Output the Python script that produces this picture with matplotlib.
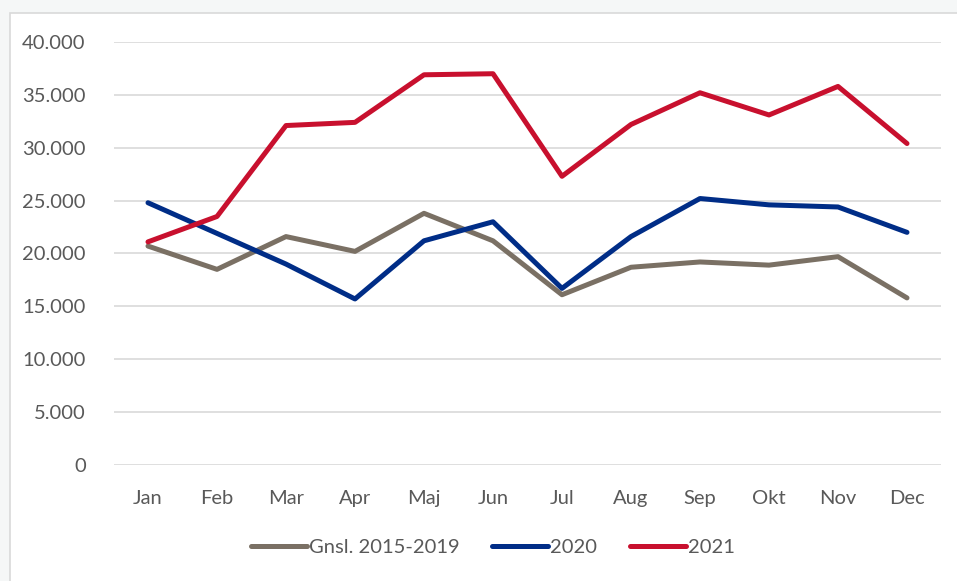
import matplotlib.pyplot as plt
from matplotlib.patches import Rectangle
from matplotlib.ticker import FuncFormatter

months = ["Jan", "Feb", "Mar", "Apr", "Maj", "Jun", "Jul", "Aug", "Sep", "Okt", "Nov", "Dec"]
gnsl = [20.7, 18.5, 21.6, 20.2, 23.8, 21.2, 16.1, 18.7, 19.2, 18.9, 19.7, 15.8]
y2020 = [24.8, 21.9, 19.0, 15.7, 21.2, 23.0, 16.7, 21.6, 25.2, 24.6, 24.4, 22.0]
y2021 = [21.1, 23.5, 32.1, 32.4, 36.9, 37.0, 27.3, 32.2, 35.2, 33.1, 35.8, 30.4]

plt.rcParams['font.family'] = ['Lato', 'DejaVu Sans']
txt = '#595959'

fig = plt.figure(figsize=(9.57, 5.81), dpi=100)
fig.patch.set_facecolor('#f5f7f7')
fig.add_artist(Rectangle((10 / 957, -0.01), 1.0, 1 - 13 / 581 + 0.01, transform=fig.transFigure,
                         facecolor='white', edgecolor='#d9d9d9', lw=1.2, zorder=0))

ax = fig.add_axes([113.5 / 957, 116 / 581, 828 / 957, 423 / 581])
ax.set_facecolor('none')
x = range(len(months))
ax.plot(x, [v * 1000 for v in gnsl], color='#7a7064', lw=3.6, solid_capstyle='round', label='Gnsl. 2015-2019')
ax.plot(x, [v * 1000 for v in y2020], color='#002d87', lw=3.6, solid_capstyle='round', label='2020')
ax.plot(x, [v * 1000 for v in y2021], color='#c8102e', lw=3.6, solid_capstyle='round', label='2021')

ax.set_xlim(-0.5, 11.5)
ax.set_ylim(0, 40000)
ax.set_yticks(range(0, 40001, 5000))
ax.yaxis.set_major_formatter(FuncFormatter(lambda v, p: f"{int(v):,}".replace(",", ".")))
ax.set_xticks(list(x))
ax.set_xticklabels(months)
ax.grid(axis='y', color='#d9d9d9', lw=1.2)
ax.set_axisbelow(True)
for s in ax.spines.values():
    s.set_visible(False)
ax.tick_params(length=0, labelsize=14.5, colors=txt)
ax.tick_params(axis='x', pad=18)
ax.tick_params(axis='y', pad=20)

leg = ax.legend(loc='center', bbox_to_anchor=(0.458, -0.195), ncol=3, frameon=False,
                fontsize=14.5, handlelength=2.8, handletextpad=0.1, columnspacing=1.6)
for t in leg.get_texts():
    t.set_color(txt)

fig.savefig('out.png', dpi=100)
